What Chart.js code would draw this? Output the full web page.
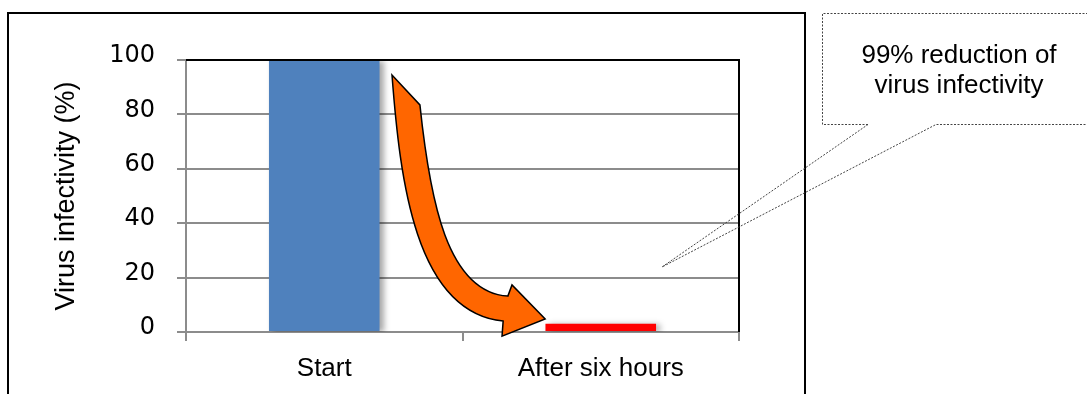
<!DOCTYPE html>
<html>
<head>
<meta charset="utf-8">
<script src="https://cdn.jsdelivr.net/npm/chart.js@4"></script>
<style>
  html, body { margin: 0; padding: 0; background: #fff; }
  #wrap { width: 1087px; height: 394px; position: relative; }
</style>
</head>
<body>
<div id="wrap"><canvas id="chart" width="1087" height="394"></canvas></div>
<script>
// Chart content
const categories = ['Start', 'After six hours'];
const infectivity = [100, 3];
const barColors = ['#4F81BD', '#FF0000'];
const yTicks = [0, 20, 40, 60, 80, 100];
const yTitle = 'Virus infectivity (%)';
const calloutLines = ['99% reduction of', 'virus infectivity'];

const GRID = '#8c8c8c';

// Soft shadow behind the bars
const barShadow = {
  id: 'barShadow',
  beforeDatasetsDraw(chart) {
    const c = chart.ctx;
    c.save();
    c.shadowColor = 'rgba(0,0,0,0.35)';
    c.shadowOffsetX = 4;
    c.shadowOffsetY = 1;
    c.shadowBlur = 6;
  },
  afterDatasetsDraw(chart) { chart.ctx.restore(); }
};

// Frame lines, curved arrow and callout
const decorations = {
  id: 'decorations',
  afterDraw(chart) {
    const c = chart.ctx;
    const a = chart.chartArea;
    const xs = chart.scales.x, ys = chart.scales.y;
    const P = (x, y) => [xs.getPixelForValue(x), ys.getPixelForValue(y)];

    // plot area: black top and right edges
    c.save();
    c.strokeStyle = '#000';
    c.lineWidth = 2;
    c.beginPath();
    c.moveTo(a.left, a.top);
    c.lineTo(a.right, a.top);
    c.lineTo(a.right, a.bottom);
    c.stroke();

    // outer frame
    c.beginPath();
    c.moveTo(8, 400);
    c.lineTo(8, 13);
    c.lineTo(805, 13);
    c.lineTo(805, 400);
    c.stroke();
    c.restore();

    // curved block arrow, in data units (category index, percent)
    c.save();
    c.beginPath();
    c.moveTo(...P(0.245, 94.5));
    c.bezierCurveTo(...P(0.274, 55.9), ...P(0.328, 7.4), ...P(0.647, 4.0));
    c.lineTo(...P(0.643, -1.5));
    c.lineTo(...P(0.799, 4.8));
    c.lineTo(...P(0.679, 17.3));
    c.lineTo(...P(0.664, 13.2));
    c.bezierCurveTo(...P(0.444, 14.7), ...P(0.382, 48.5), ...P(0.346, 83.5));
    c.closePath();
    c.fillStyle = '#FF6600';
    c.fill();
    c.strokeStyle = '#000';
    c.lineWidth = 1.5;
    c.lineJoin = 'miter';
    c.stroke();
    c.restore();

    // callout with pointer
    c.save();
    c.strokeStyle = '#444';
    c.lineWidth = 1;
    c.setLineDash([2, 1.5]);
    c.beginPath();
    c.moveTo(868, 124.5);
    c.lineTo(822.5, 124.5);
    c.lineTo(822.5, 13.5);
    c.lineTo(1095, 13.5);
    c.lineTo(1095, 124.5);
    c.lineTo(936, 124.5);
    c.lineTo(662, 267);
    c.lineTo(868, 124.5);
    c.stroke();
    c.restore();

    c.save();
    c.fillStyle = '#000';
    c.font = '26px "Liberation Sans", Arial, sans-serif';
    c.textAlign = 'center';
    c.textBaseline = 'middle';
    calloutLines.forEach((t, i) => c.fillText(t, 959, 56 + i * 30));
    c.restore();
  }
};

new Chart(document.getElementById('chart'), {
  type: 'bar',
  data: {
    labels: categories,
    datasets: [{
      data: infectivity,
      backgroundColor: barColors,
      borderWidth: 0,
      barPercentage: 0.4,
      categoryPercentage: 1.0
    }]
  },
  options: {
    responsive: false,
    animation: false,
    events: [],
    layout: { padding: { left: 7, top: 60, right: 348, bottom: 0 } },
    plugins: { legend: { display: false }, tooltip: { enabled: false } },
    scales: {
      x: {
        offset: true,
        afterFit(s) { s.height = 62; },
        grid: { offset: true, drawOnChartArea: false, drawTicks: true, tickLength: 9, color: GRID, lineWidth: 2 },
        border: { color: GRID, width: 2 },
        ticks: { color: '#000', padding: 12, font: { family: '"Liberation Sans", Arial, sans-serif', size: 26 } }
      },
      y: {
        min: 0,
        max: 100,
        afterFit(s) { s.width = 179; },
        afterBuildTicks(s) { s.ticks = yTicks.map(v => ({ value: v })); },
        grid: { color: GRID, lineWidth: 2, tickLength: 9 },
        border: { color: GRID, width: 2 },
        ticks: {
          color: '#000',
          padding: 22,
          labelOffset: -4,
          font: { family: '"DejaVu Sans", Verdana, sans-serif', size: 24 }
        },
        title: {
          display: true,
          text: yTitle,
          color: '#000',
          padding: { top: 43, bottom: 0 },
          font: { family: '"Liberation Sans", Arial, sans-serif', size: 27, weight: 'normal' }
        }
      }
    }
  },
  plugins: [barShadow, decorations]
});
</script>
</body>
</html>
